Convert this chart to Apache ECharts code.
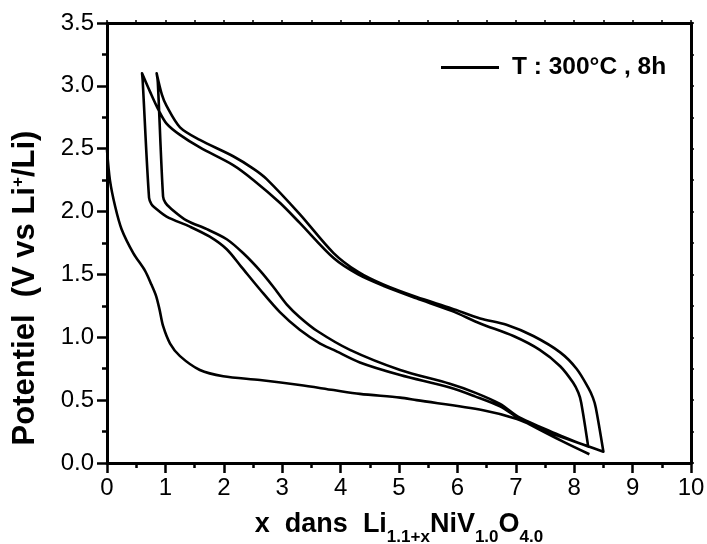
<!DOCTYPE html>
<html>
<head>
<meta charset="utf-8">
<script src="https://cdn.jsdelivr.net/npm/echarts@6/dist/echarts.min.js"></script>
<style>
html,body{margin:0;padding:0;background:#fff;}
#chart{width:707px;height:544px;}
</style>
</head>
<body>
<div id="chart"></div>
<script>
// ---- data (x in Li1.1+x NiV1.0O4.0, potential in V) ----
const seriesName = 'T : 300°C , 8h';
const xTicks = [0,1,2,3,4,5,6,7,8,9,10];
const yTicks = [0,0.5,1,1.5,2,2.5,3,3.5];

const discharge1 = [[0,2.49],[0.05,2.25],[0.14,2.04],[0.25,1.86],[0.45,1.67],[0.65,1.53],[0.76,1.42],
  [0.84,1.33],[0.9,1.22],[0.96,1.09],[1.08,0.95],[1.25,0.85],[1.59,0.74],[1.99,0.69],[2.62,0.66],
  [3.3,0.62],[3.88,0.58],[4.33,0.55],[5.02,0.52],[5.3,0.50],[6.44,0.42],[7.02,0.35],[7.59,0.24],[8.5,0.09]];

const charge1 = [[8.5,0.09],[8.37,0.44],[8.32,0.52],[8.24,0.60],[8.04,0.75],[7.76,0.88],[7.3,1.01],[6.84,1.10],
  [6.39,1.15],[5.9,1.23],[5.3,1.32],[4.73,1.42],[4.3,1.52],[3.88,1.67],[3.3,1.98],[2.73,2.26],
  [2.51,2.34],[2.16,2.44],[1.59,2.57],[1.25,2.67],[1.02,2.84],[0.94,2.93],[0.85,3.10]];

const discharge2 = [[0.85,3.10],[0.87,3.03],[0.96,2.12],[1.0,2.07],[1.08,2.03],[1.36,1.93],[1.71,1.86],[2.05,1.78],
  [2.33,1.67],[2.62,1.53],[2.85,1.40],[3.08,1.26],[3.3,1.16],[3.6,1.05],[4.16,0.90],[5.02,0.74],
  [5.87,0.63],[6.3,0.56],[6.73,0.47],[7.07,0.36],[7.81,0.21],[8.24,0.13]];

const charge2 = [[8.24,0.13],[8.12,0.48],[8.07,0.56],[7.98,0.64],[7.76,0.77],[7.41,0.90],[6.96,1.01],[6.39,1.11],
  [5.9,1.21],[5.3,1.31],[4.73,1.41],[4.3,1.50],[3.88,1.63],[3.3,1.91],[2.96,2.07],[2.51,2.25],
  [2.16,2.37],[1.59,2.51],[1.25,2.61],[1.02,2.70],[0.88,2.81],[0.74,2.95],[0.6,3.10]];

const discharge3 = [[0.61,3.05],[0.72,2.11],[0.76,2.06],[0.82,2.03],[1.02,1.96],[1.42,1.88],[1.76,1.80],[2.05,1.70],
  [2.3,1.56],[2.62,1.38],[2.96,1.20],[3.3,1.06],[3.65,0.95],[3.88,0.90],[4.33,0.80],[5.02,0.70],
  [5.87,0.60],[6.3,0.53],[6.73,0.45],[7.07,0.35],[7.81,0.17],[8.26,0.07]];

const cycleData = [].concat(discharge1, charge1.slice(1), discharge2.slice(1), charge2.slice(1), discharge3);

const FONT = '"Liberation Sans", Arial, Helvetica, sans-serif';
const chart = echarts.init(document.getElementById('chart'));
const axisLine = {show:true, onZero:false, lineStyle:{color:'#000', width:3}};

chart.setOption({
  animation:false,
  backgroundColor:'#fff',
  grid:{left:107, right:16, top:23, bottom:81, containLabel:false, outerBoundsMode:'none'},
  legend:{
    data:[seriesName], left:436, top:50, icon:'rect', itemWidth:58, itemHeight:3,
    itemStyle:{color:'#000'},
    textStyle:{fontFamily:FONT, fontSize:24.5, fontWeight:'bold', color:'#000', padding:[0,0,0,8]}
  },
  xAxis:[{
    type:'value', min:xTicks[0], max:xTicks[xTicks.length-1], interval:1, position:'bottom',
    axisLine:axisLine,
    axisTick:{show:true, inside:false, length:10, lineStyle:{color:'#000', width:2.5}},
    minorTick:{show:true, splitNumber:2, length:5, lineStyle:{color:'#000', width:2.5}},
    splitLine:{show:false},
    axisLabel:{fontFamily:FONT, fontSize:24, color:'#000', margin:13, formatter:v=>String(v)},
    name:'{b|x  dans  Li}{s|1.1+x}{b|NiV}{s|1.0}{b|O}{s|4.0}',
    nameLocation:'middle', nameGap:48,
    nameTextStyle:{rich:{
      b:{fontFamily:FONT, fontSize:27, fontWeight:'bold', color:'#000', verticalAlign:'bottom', padding:[0,0,8,0]},
      s:{fontFamily:FONT, fontSize:17, fontWeight:'bold', color:'#000', verticalAlign:'bottom'}
    }}
  },{
    type:'value', min:xTicks[0], max:xTicks[xTicks.length-1], interval:1, position:'top',
    axisLine:axisLine,
    axisTick:{show:true, inside:false, length:3, lineStyle:{color:'#000', width:1.5}},
    minorTick:{show:true, splitNumber:2, length:3, lineStyle:{color:'#000', width:1.5}},
    splitLine:{show:false}, axisLabel:{show:false}
  }],
  yAxis:[{
    type:'value', min:yTicks[0], max:yTicks[yTicks.length-1], interval:0.5, position:'left',
    axisLine:axisLine,
    axisTick:{show:true, inside:false, length:10, lineStyle:{color:'#000', width:2.5}},
    minorTick:{show:true, splitNumber:2, length:5, lineStyle:{color:'#000', width:2.5}},
    splitLine:{show:false},
    axisLabel:{fontFamily:FONT, fontSize:24, color:'#000', margin:13, formatter:v=>v.toFixed(1)},
    name:'{t|Potentiel  (V vs Li}{p|+}{t|/Li)}',
    nameLocation:'middle', nameGap:66,
    nameTextStyle:{padding:[0,90,0,0], rich:{
      t:{fontFamily:FONT, fontSize:31, fontWeight:'bold', color:'#000'},
      p:{fontFamily:FONT, fontSize:17, fontWeight:'bold', color:'#000', verticalAlign:'top'}
    }}
  },{
    type:'value', min:yTicks[0], max:yTicks[yTicks.length-1], interval:0.5, position:'right',
    axisLine:axisLine,
    axisTick:{show:true, inside:false, length:3, lineStyle:{color:'#000', width:1.5}},
    minorTick:{show:true, splitNumber:2, length:3, lineStyle:{color:'#000', width:1.5}},
    splitLine:{show:false}, axisLabel:{show:false}
  }],
  series:[{
    name:seriesName, type:'line', xAxisIndex:0, yAxisIndex:0,
    data:cycleData, symbol:'none', smooth:0.3,
    lineStyle:{color:'#000', width:2.6, join:'round'},
    itemStyle:{color:'#000'}
  }]
});
</script>
</body>
</html>
